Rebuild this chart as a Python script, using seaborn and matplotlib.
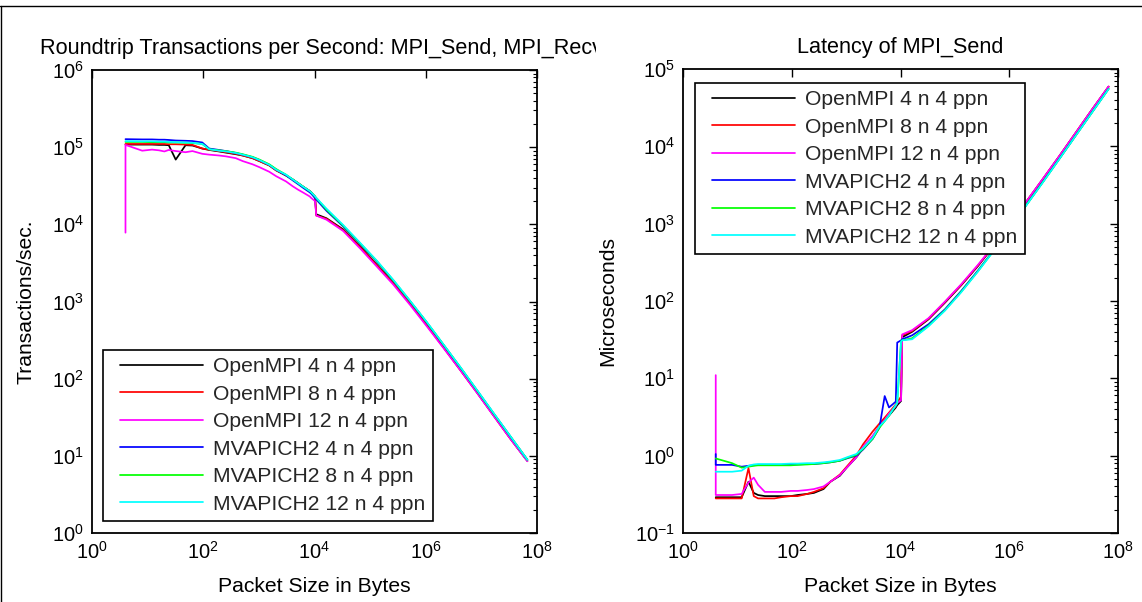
import numpy as np
import pandas as pd
import seaborn as sns
import matplotlib
matplotlib.use("Agg")
import matplotlib.pyplot as plt
from matplotlib.lines import Line2D
from matplotlib.legend_handler import HandlerLine2D
from matplotlib.ticker import FixedLocator, LogLocator, NullLocator, LogFormatterSciNotation, NullFormatter
from matplotlib.transforms import Bbox, TransformedBbox

# ---------------- data ----------------
sizes = [4, 4, 8, 12, 16, 20, 24, 32, 48, 64, 96, 128, 192, 256, 384, 512, 768, 1024,
         1536, 2048, 3072, 4096, 5120, 6144, 8192, 8704, 10240, 10752, 16384, 32768,
         65536, 131072, 262144, 524288, 1048576, 2097152, 4194304, 8388608,
         16777216, 33554432, 67108864]

series_names = ["OpenMPI 4 n 4 ppn", "OpenMPI 8 n 4 ppn", "OpenMPI 12 n 4 ppn",
                "MVAPICH2 4 n 4 ppn", "MVAPICH2 8 n 4 ppn", "MVAPICH2 12 n 4 ppn"]
series_colors = ["#000000", "#FF0000", "#FF00FF", "#0000FF", "#00FF00", "#00FFFF"]

# Roundtrip transactions per second
tps_ompi4 = [1.08e5, 1.08e5, 1.08e5, 1.08e5, 1.07e5, 1.07e5, 1.06e5, 6.9e4, 1.06e5, 1.05e5,
             9.6e4, 9.2e4, 8.8e4, 8.5e4, 8.1e4, 7.8e4, 7.2e4, 6.6e4, 5.8e4, 5.0e4, 4.3e4,
             3.8e4, 3.4e4, 3.1e4, 2.7e4, 2.6e4, 2.2e4, 1.35e4, 1.2e4, 8.6e3, 5.2e3, 3.0e3,
             1.75e3, 950, 495, 255, 130, 66, 33, 16.6, 8.6]
tps_ompi8 = [1.1e5, 1.1e5, 1.1e5, 1.1e5, 1.1e5, 1.1e5, 1.09e5, 1.09e5, 1.08e5, 1.07e5,
             9.6e4, 9.3e4, 8.9e4, 8.6e4, 8.2e4, 7.8e4, 7.2e4, 6.6e4, 5.8e4, 5.0e4, 4.3e4,
             3.8e4, 3.4e4, 3.1e4, 2.7e4, 2.6e4, 2.3e4, 1.3e4, 1.18e4, 8.4e3, 5.1e3, 2.95e3,
             1.72e3, 940, 490, 252, 129, 66, 33, 16.5, 8.6]
tps_ompi12 = [7.8e3, 1.07e5, 9.0e4, 9.3e4, 9.1e4, 8.8e4, 9.2e4, 8.9e4, 8.6e4, 8.9e4,
              8.2e4, 8.0e4, 7.8e4, 7.6e4, 7.2e4, 6.6e4, 6.0e4, 5.5e4, 4.8e4, 4.2e4, 3.6e4,
              3.1e4, 2.8e4, 2.6e4, 2.3e4, 2.2e4, 2.0e4, 1.3e4, 1.15e4, 8.2e3, 4.9e3, 2.85e3,
              1.65e3, 900, 475, 248, 128, 65, 32.5, 16.4, 8.5]
tps_mv4 = [1.27e5, 1.27e5, 1.26e5, 1.26e5, 1.25e5, 1.25e5, 1.24e5, 1.22e5, 1.21e5, 1.2e5,
           1.15e5, 9.6e4, 9.2e4, 8.9e4, 8.4e4, 8.0e4, 7.4e4, 6.8e4, 5.9e4, 5.1e4, 4.3e4,
           3.7e4, 3.3e4, 3.0e4, 2.6e4, 2.5e4, 2.2e4, 2.1e4, 1.5e4, 9.4e3, 5.6e3, 3.3e3,
           1.85e3, 1.0e3, 530, 272, 139, 70, 35, 17.6, 8.9]
tps_mv8 = [1.17e5, 1.17e5, 1.17e5, 1.16e5, 1.16e5, 1.16e5, 1.15e5, 1.15e5, 1.14e5, 1.13e5,
           1.1e5, 9.4e4, 9.1e4, 8.9e4, 8.5e4, 8.1e4, 7.5e4, 6.9e4, 6.0e4, 5.2e4, 4.4e4,
           3.8e4, 3.4e4, 3.1e4, 2.7e4, 2.6e4, 2.3e4, 2.2e4, 1.55e4, 9.6e3, 5.7e3, 3.35e3,
           1.87e3, 1.01e3, 535, 274, 140, 70, 35, 17.7, 8.9]
tps_mv12 = [1.2e5, 1.2e5, 1.19e5, 1.19e5, 1.18e5, 1.18e5, 1.17e5, 1.16e5, 1.15e5, 1.14e5,
            1.1e5, 9.4e4, 9.0e4, 8.8e4, 8.4e4, 8.0e4, 7.4e4, 6.8e4, 5.9e4, 5.1e4, 4.4e4,
            3.8e4, 3.4e4, 3.1e4, 2.7e4, 2.6e4, 2.3e4, 2.2e4, 1.6e4, 9.8e3, 5.8e3, 3.4e3,
            1.9e3, 1.02e3, 540, 276, 141, 71, 35.5, 17.8, 8.9]

# Latency of MPI_Send (microseconds)
lat_ompi4 = [0.29, 0.29, 0.29, 0.29, 0.46, 0.33, 0.31, 0.30, 0.30, 0.30, 0.30, 0.31, 0.32,
             0.33, 0.37, 0.46, 0.55, 0.70, 0.95, 1.25, 1.75, 2.4, 2.9, 3.3, 4.2, 4.5, 5.1,
             34, 40, 58, 95, 160, 280, 520, 1000, 1950, 3800, 7500, 15000, 30000, 59000]
lat_ompi8 = [0.28, 0.28, 0.28, 0.28, 0.69, 0.30, 0.28, 0.28, 0.28, 0.29, 0.30, 0.30, 0.32,
             0.34, 0.38, 0.46, 0.57, 0.72, 1.0, 1.4, 2.05, 2.6, 3.1, 3.6, 4.6, 4.9, 5.8,
             36, 41, 59, 97, 162, 285, 525, 1010, 1960, 3820, 7520, 15050, 30100, 59200]
lat_ompi12 = [11.0, 0.31, 0.31, 0.32, 0.45, 0.52, 0.42, 0.34, 0.34, 0.34, 0.35, 0.35, 0.36,
              0.37, 0.40, 0.46, 0.56, 0.70, 0.95, 1.3, 1.8, 2.4, 2.9, 3.5, 4.4, 4.8, 5.2,
              37, 42, 60, 98, 165, 290, 530, 1020, 1970, 3850, 7550, 15100, 30200, 59500]
lat_mv4 = [1.05, 0.76, 0.76, 0.72, 0.74, 0.75, 0.76, 0.76, 0.76, 0.76, 0.77, 0.77, 0.78,
           0.78, 0.80, 0.82, 0.86, 0.92, 1.0, 1.2, 1.65, 2.3, 5.9, 4.2, 5.0, 29, 31,
           32, 36, 50, 78, 135, 245, 460, 900, 1780, 3500, 6950, 13900, 27800, 55500]
lat_mv8 = [0.92, 0.92, 0.80, 0.70, 0.72, 0.74, 0.75, 0.75, 0.75, 0.75, 0.75, 0.76, 0.77,
           0.78, 0.80, 0.82, 0.86, 0.93, 1.02, 1.22, 1.65, 2.3, 2.8, 3.3, 4.5, 4.8, 30,
           31, 33, 48, 76, 132, 240, 455, 890, 1770, 3480, 6920, 13850, 27700, 55300]
lat_mv12 = [0.62, 0.62, 0.62, 0.64, 0.74, 0.77, 0.78, 0.78, 0.78, 0.78, 0.79, 0.79, 0.80,
            0.80, 0.82, 0.84, 0.88, 0.95, 1.05, 1.25, 1.7, 2.4, 2.8, 3.3, 4.5, 4.8, 30,
            31, 32, 47, 75, 130, 238, 450, 880, 1760, 3450, 6900, 13800, 27600, 55000]

tps_series = [tps_ompi4, tps_ompi8, tps_ompi12, tps_mv4, tps_mv8, tps_mv12]
lat_series = [lat_ompi4, lat_ompi8, lat_ompi12, lat_mv4, lat_mv8, lat_mv12]


def long_frame(values_list):
    frames = []
    for name, vals in zip(series_names, values_list):
        frames.append(pd.DataFrame({"size": sizes, "value": vals, "series": name}))
    return pd.concat(frames, ignore_index=True)


df_tps = long_frame(tps_series)
df_lat = long_frame(lat_series)

# ---------------- style ----------------
sns.set_theme(style="white")
plt.rcParams["font.family"] = ["Liberation Sans", "DejaVu Sans"]
plt.rcParams["mathtext.fontset"] = "custom"
plt.rcParams["mathtext.rm"] = "Liberation Sans"
plt.rcParams["mathtext.default"] = "regular"
FS = 15.2      # labels, legend
TFS = 14.5     # tick labels

W, H = 1142, 602
fig = plt.figure(figsize=(W / 100, H / 100), dpi=100)
fig.patch.set_facecolor("white")


def ax_rect(x0, y0, x1, y1):
    return [x0 / W, 1 - y1 / H, (x1 - x0) / W, (y1 - y0) / H]


ax1 = fig.add_axes(ax_rect(92, 70, 537, 533))
ax2 = fig.add_axes(ax_rect(683, 69, 1118, 533))

palette = dict(zip(series_names, series_colors))

for ax, df in ((ax1, df_tps), (ax2, df_lat)):
    sns.lineplot(data=df, x="size", y="value", hue="series", hue_order=series_names,
                 palette=palette, estimator=None, sort=False, linewidth=1.25,
                 ax=ax, legend=False)
    ax.set_xscale("log")
    ax.set_yscale("log")
    ax.set_xlim(1, 1e8)
    ax.xaxis.set_major_locator(FixedLocator([1, 1e2, 1e4, 1e6, 1e8]))
    ax.xaxis.set_major_formatter(LogFormatterSciNotation())
    ax.xaxis.set_minor_locator(NullLocator())
    ax.yaxis.set_major_locator(LogLocator(base=10, numticks=20))
    ax.yaxis.set_minor_locator(LogLocator(base=10, subs=np.arange(2, 10), numticks=100))
    ax.yaxis.set_minor_formatter(NullFormatter())
    ax.tick_params(which="both", direction="in", top=True, right=True, colors="black",
                   labelsize=TFS)
    ax.tick_params(which="major", length=5.5, width=1.0, pad=6)
    ax.tick_params(which="minor", length=3, width=0.8)
    for sp in ax.spines.values():
        sp.set_visible(True)
        sp.set_color("black")
        sp.set_linewidth(1.3)
    ax.set_facecolor("white")
    ax.set_xlabel("Packet Size in Bytes", fontsize=FS, color="black")
    ax.xaxis.set_label_coords(0.5, -0.095)

ax1.set_ylim(1, 1e6)
ax2.set_ylim(0.1, 1e5)

ax1.set_ylabel("Transactions/sec.", fontsize=FS, color="black")
ax1.yaxis.set_label_coords(-0.128, 0.5)
ax2.set_ylabel("Microseconds", fontsize=FS, color="black")
ax2.yaxis.set_label_coords(-0.152, 0.5)

# titles (the left one is cut off by the figure layout, as in the original)
t1 = fig.text(40 / W, 1 - 54 / H, "Roundtrip Transactions per Second: MPI_Send, MPI_Recv",
              fontsize=15.6, ha="left", va="baseline", color="black")
t1.set_clip_box(TransformedBbox(Bbox.from_extents(0, 0, 596 / W, 1), fig.transFigure))
t1.set_clip_on(True)
ax2.set_title("Latency of MPI_Send", fontsize=15.6, color="black", pad=11.5)

# legends
handles = [Line2D([], [], color=c, lw=1.25) for c in series_colors]
leg_kw = dict(fontsize=FS, frameon=True, fancybox=False, framealpha=1, edgecolor="black",
              handlelength=4.39, handletextpad=0.47, labelspacing=0.40, borderpad=0.35,
              borderaxespad=0, handler_map={Line2D: HandlerLine2D(xpad=0.45)})
leg1 = ax1.legend(handles, series_names, loc="lower left",
                  bbox_to_anchor=((103 - 92) / 445, (533 - 521) / 463), **leg_kw)
leg2 = ax2.legend(handles, series_names, loc="upper left",
                  bbox_to_anchor=((695 - 683) / 435, (533 - 83) / 464), **leg_kw)
for lg in (leg1, leg2):
    lg.get_frame().set_linewidth(1.2)

# page border lines
fig.add_artist(Line2D([0, 1], [1 - 6 / H, 1 - 6 / H], transform=fig.transFigure,
                      color="black", lw=1.0))
fig.add_artist(Line2D([1 / W, 1 / W], [0, 1 - 6 / H], transform=fig.transFigure,
                      color="black", lw=1.0))

fig.savefig("out.png", dpi=100, facecolor="white")
